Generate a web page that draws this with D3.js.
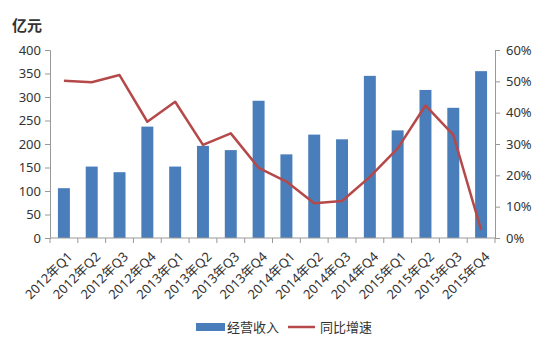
<!DOCTYPE html>
<html>
<head>
<meta charset="utf-8">
<script src="https://cdn.jsdelivr.net/npm/d3@7"></script>
<style>
  body { margin: 0; background: #fff; }
  svg text { font-family: "Noto Sans", "Noto Sans CJK SC", sans-serif; fill: #333; }
</style>
</head>
<body>
<svg id="svg1" width="550" height="347"></svg>
<script>
var categories = ['2012年Q1','2012年Q2','2012年Q3','2012年Q4','2013年Q1','2013年Q2','2013年Q3','2013年Q4',
                  '2014年Q1','2014年Q2','2014年Q3','2014年Q4','2015年Q1','2015年Q2','2015年Q3','2015年Q4'];
var revenue = [106, 152, 140, 237, 152, 196, 187, 292, 178, 220, 210, 345, 229, 315, 277, 355];
var growth = [0.502, 0.497, 0.520, 0.371, 0.435, 0.297, 0.334, 0.224, 0.180, 0.111, 0.118, 0.195, 0.286, 0.423, 0.329, 0.026];
var leftTicks = [0, 50, 100, 150, 200, 250, 300, 350, 400];
var rightTicks = [0, 0.1, 0.2, 0.3, 0.4, 0.5, 0.6];

var plotLeft = 50, plotRight = 495, plotTop = 50, plotBottom = 238;

var svg = d3.select('#svg1');

var scaleX = d3.scaleBand().domain(categories).range([plotLeft, plotRight]).paddingInner(0.57).paddingOuter(0.285);
var scaleY = d3.scaleLinear().domain([0, 400]).range([plotBottom, plotTop]);
var scaleY2 = d3.scaleLinear().domain([0, 0.6]).range([plotBottom, plotTop]);
var band = d3.scaleBand().domain(categories).range([plotLeft, plotRight]);

// bars
svg.selectAll('.bar')
    .data(revenue)
    .enter()
    .append('rect')
    .attr('class', 'bar')
    .attr('x', function(d, i) { return scaleX(categories[i]); })
    .attr('y', function(d) { return scaleY(d); })
    .attr('width', scaleX.bandwidth())
    .attr('height', function(d) { return plotBottom - scaleY(d); })
    .attr('fill', '#4a7ebb');

// left axis
var axL = svg.append('g')
    .attr('transform', 'translate(' + plotLeft + ',0)')
    .call(d3.axisLeft(scaleY).tickValues(leftTicks).tickSize(5).tickPadding(4));

// right axis
var axR = svg.append('g')
    .attr('transform', 'translate(' + plotRight + ',0)')
    .call(d3.axisRight(scaleY2).tickValues(rightTicks).tickFormat(d3.format('.0%')).tickSize(5).tickPadding(6));

// bottom axis with ticks at band boundaries
var axB = svg.append('g')
    .attr('transform', 'translate(0,' + plotBottom + ')');
axB.append('line')
    .attr('x1', plotLeft).attr('x2', plotRight)
    .attr('y1', 0).attr('y2', 0)
    .attr('stroke', '#999');
axB.selectAll('.xtick')
    .data(categories.concat(['end']))
    .enter()
    .append('line')
    .attr('x1', function(d, i) { return i < categories.length ? band(d) : plotRight; })
    .attr('x2', function(d, i) { return i < categories.length ? band(d) : plotRight; })
    .attr('y1', 0).attr('y2', 5)
    .attr('stroke', '#999');
axB.selectAll('.xlabel')
    .data(categories)
    .enter()
    .append('text')
    .attr('class', 'xlabel')
    .attr('transform', function(d) {
        return 'translate(' + (band(d) + band.bandwidth() / 2 + 3) + ',13) rotate(-45)';
    })
    .attr('text-anchor', 'end')
    .attr('dy', '0.7em')
    .style('font-size', '13px')
    .text(function(d) { return d; });

[axL, axR].forEach(function(ax) {
    ax.select('.domain').attr('stroke', '#999');
    ax.selectAll('.tick line').attr('stroke', '#999');
    ax.selectAll('.tick text').style('font-size', '13px').attr('fill', '#333');
});

// line
var line = d3.line()
    .x(function(d, i) { return scaleX(categories[i]) + scaleX.bandwidth() / 2; })
    .y(function(d) { return scaleY2(d); });

svg.append('path')
    .datum(growth)
    .attr('d', line)
    .attr('fill', 'none')
    .attr('stroke', '#b5494a')
    .attr('stroke-width', 2.5)
    .attr('stroke-linejoin', 'round');

// unit label
svg.append('text')
    .attr('x', 12).attr('y', 31)
    .style('font-size', '15px')
    .style('font-weight', 'bold')
    .text('亿元');

// legend
var lg = svg.append('g').attr('transform', 'translate(0,327)');
lg.append('rect').attr('x', 196).attr('y', -4).attr('width', 29).attr('height', 8).attr('fill', '#4a7ebb');
lg.append('text').attr('x', 227).attr('y', 0).attr('dy', '0.35em').style('font-size', '13px').text('经营收入');
lg.append('line').attr('x1', 288).attr('x2', 315).attr('y1', 0).attr('y2', 0)
    .attr('stroke', '#b5494a').attr('stroke-width', 2.5);
lg.append('text').attr('x', 320).attr('y', 0).attr('dy', '0.35em').style('font-size', '13px').text('同比增速');
</script>
</body>
</html>
